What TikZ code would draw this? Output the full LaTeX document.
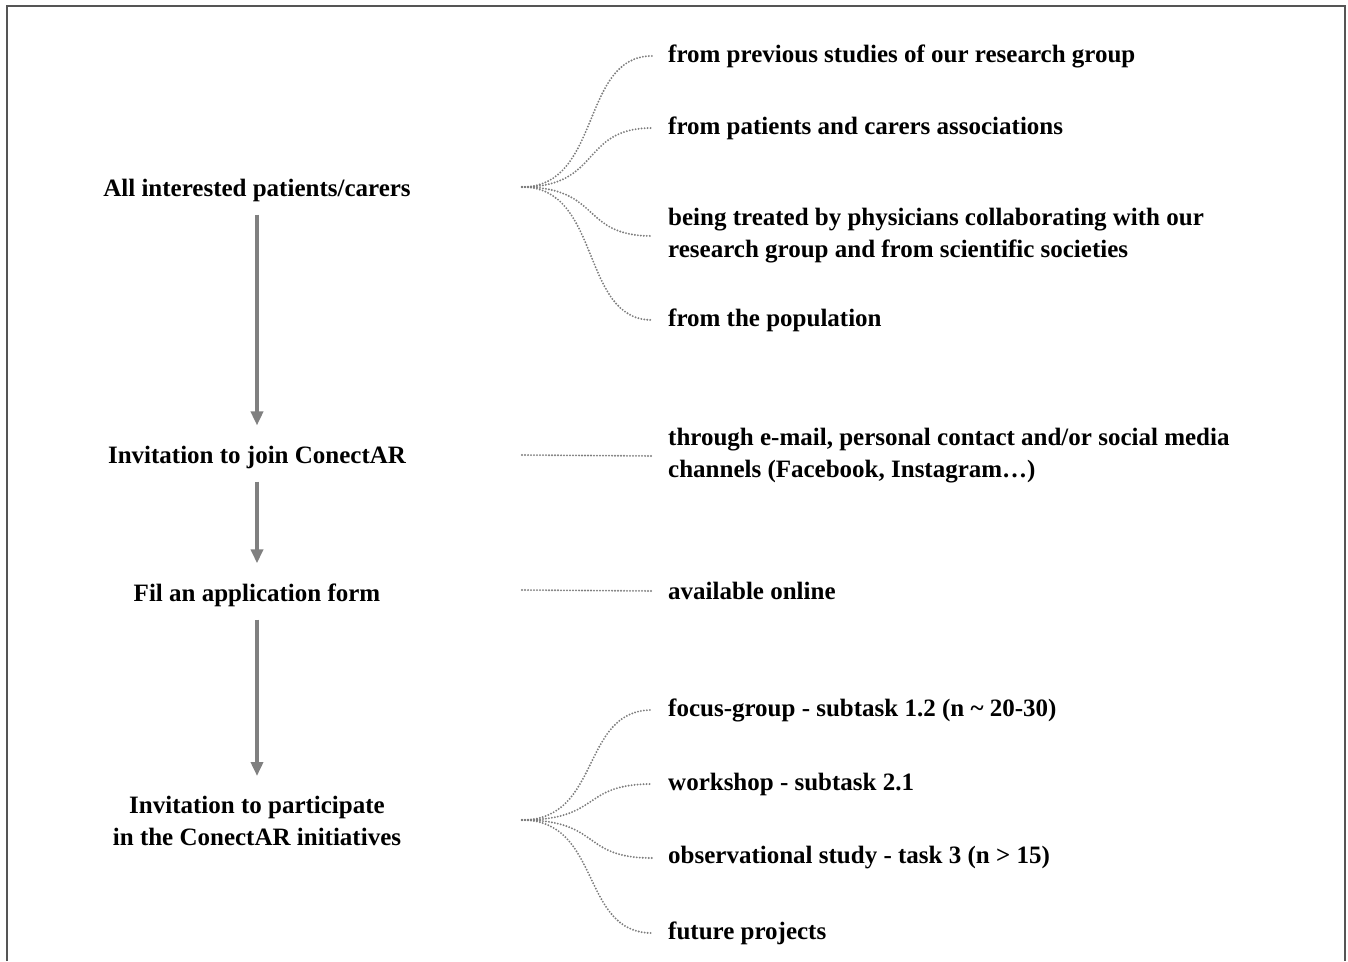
\documentclass[tikz,border=0pt]{standalone}
\usepackage{fontspec}
\setmainfont{Liberation Serif}
\usetikzlibrary{arrows.meta}
\definecolor{flowgrey}{RGB}{128,128,128}
\definecolor{dotgrey}{RGB}{125,125,125}
\definecolor{framegrey}{RGB}{85,85,85}

\begin{document}
\begin{tikzpicture}[x=1pt,y=-1pt,
  stage/.style={align=center,inner sep=0pt,font=\fontsize{25}{32}\selectfont\bfseries},
  item/.style={anchor=west,align=left,inner xsep=16pt,inner ysep=0pt,font=\fontsize{25}{32}\selectfont\bfseries},
  flow/.style={-{Triangle[length=14pt,width=12pt]},line width=3.5pt,flowgrey,shorten <=13pt,shorten >=20pt},
  link/.style={dotgrey,line width=2.1pt,line cap=round,dash pattern=on 0pt off 3pt}]
\useasboundingbox (0,0) rectangle (1348,961);
\draw[framegrey,line width=1.6pt] (7,961) -- (7,6) -- (1345,6) -- (1345,961);
% left column
\node[stage] (all) at (257,190) {All interested patients/carers};
\node[stage] (inv) at (257,457) {Invitation to join ConectAR};
\node[stage] (form) at (257,595) {Fil an application form};
\node[stage] (part) at (257,821) {Invitation to participate\\in the ConectAR initiatives};
\draw[flow] (all) -- (inv);
\draw[flow] (inv) -- (form);
\draw[flow] (form) -- (part);
% fan origins
\coordinate (allR) at (522,187);
\coordinate (invR) at (522,455);
\coordinate (formR) at (522,590);
\coordinate (partR) at (522,820);
% right column
\node[item] (s1) at (652,56) {from previous studies of our research group};
\node[item] (s2) at (652,128) {from patients and carers associations};
\node[item] (s3) at (652,236) {being treated by physicians collaborating with our\\research group and from scientific societies};
\node[item] (s4) at (652,320) {from the population};
\node[item] (c1) at (652,456) {through e-mail, personal contact and/or social media\\channels (Facebook, Instagram\dots)};
\node[item] (o1) at (652,591) {available online};
\node[item] (p1) at (652,710) {focus-group - subtask 1.2 (n \textasciitilde{} 20-30)};
\node[item] (p2) at (652,784) {workshop - subtask 2.1};
\node[item] (p3) at (652,858) {observational study - task 3 (n > 15)};
\node[item] (p4) at (652,933) {future projects};
% dotted connectors
\foreach \t in {s1,s2,s3,s4}
  \draw[link] (allR) .. controls +(80,0) and +(-72,0) .. (\t.west);
\foreach \t in {p1,p2,p3,p4}
  \draw[link] (partR) .. controls +(80,0) and +(-72,0) .. (\t.west);
\draw[link] (invR) -- (c1.west);
\draw[link] (formR) -- (o1.west);
\end{tikzpicture}
\end{document}
